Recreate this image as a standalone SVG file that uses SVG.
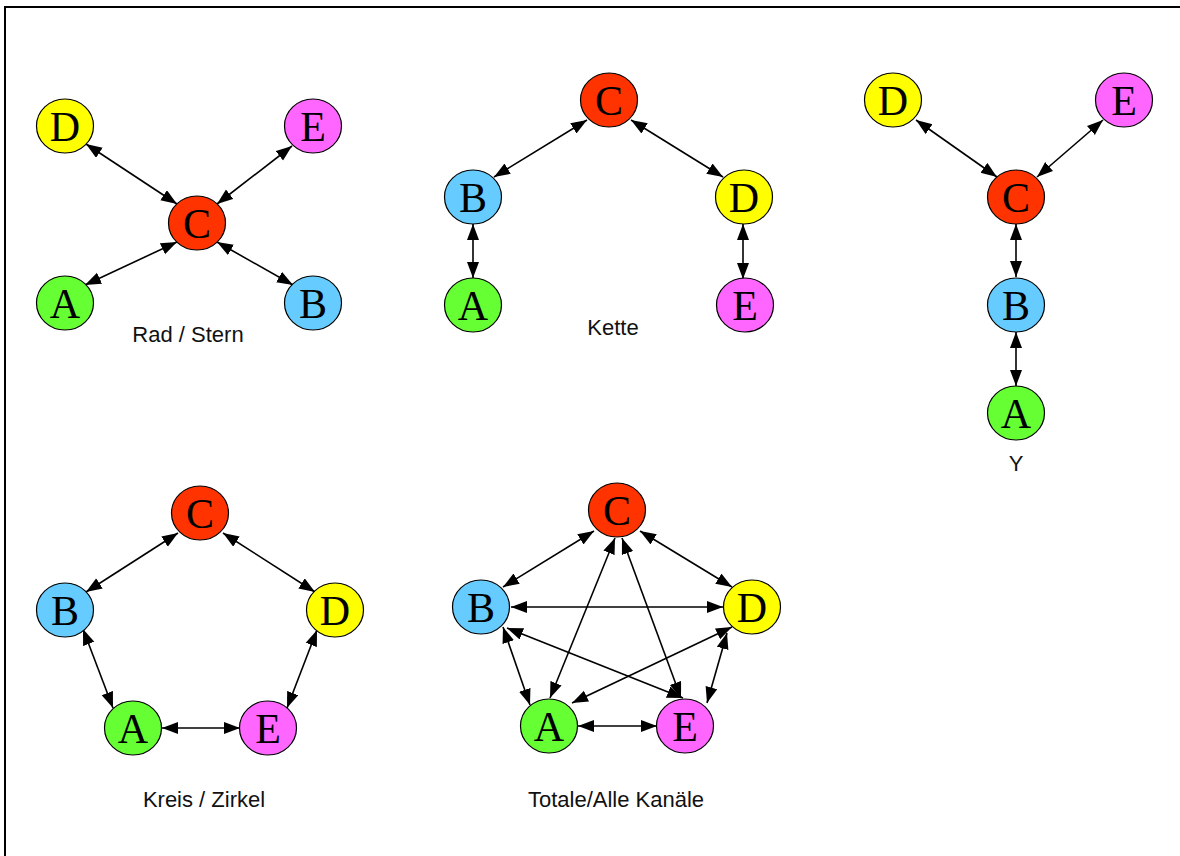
<svg xmlns="http://www.w3.org/2000/svg" width="1180" height="856" viewBox="0 0 1180 856">
  <style>
    .frame { stroke: #000; stroke-width: 2; fill: none; }
    .node ellipse { stroke: #000; stroke-width: 1.2; }
    .node text { font-family: "Liberation Serif", "Times New Roman", serif; font-size: 42px; fill: #000; text-anchor: middle; }
    .cA { fill: #66FF33; }
    .cB { fill: #66CCFF; }
    .cC { fill: #FF3300; }
    .cD { fill: #FFFF00; }
    .cE { fill: #FF66FF; }
    .edges line { stroke: #000; stroke-width: 1.6; marker-start: url(#head); marker-end: url(#head); }
    .caption { font-family: "Liberation Sans", Arial, sans-serif; font-size: 22px; fill: #111; text-anchor: middle; }
  </style>
  <defs>
    <marker id="head" markerUnits="userSpaceOnUse" markerWidth="17" markerHeight="13" viewBox="0 0 17 13" refX="16" refY="6" orient="auto-start-reverse">
      <path d="M0,0 L16,6 L0,12 z" fill="#000"/>
    </marker>
  </defs>

  <rect x="0" y="0" width="1180" height="856" fill="#fff"/>
  <path class="frame" d="M5,856 V7 H1180"/>

  <!-- connectors -->
  <g id="connectors" class="edges">
    <!-- Rad / Stern -->
    <line x1="86" y1="144" x2="177" y2="204"/>
    <line x1="292" y1="146" x2="217" y2="204"/>
    <line x1="85" y1="285" x2="177" y2="242"/>
    <line x1="293" y1="285" x2="217" y2="242"/>
    <!-- Kette -->
    <line x1="587" y1="120" x2="494" y2="177"/>
    <line x1="631" y1="120" x2="723" y2="177"/>
    <line x1="473" y1="224" x2="473" y2="278"/>
    <line x1="743" y1="224" x2="743" y2="279"/>
    <!-- Y -->
    <line x1="916" y1="120" x2="997" y2="177"/>
    <line x1="1103" y1="120" x2="1037" y2="177"/>
    <line x1="1016" y1="224" x2="1016" y2="277"/>
    <line x1="1016" y1="332" x2="1016" y2="386"/>
    <!-- Kreis / Zirkel -->
    <line x1="178" y1="533" x2="86" y2="592"/>
    <line x1="223" y1="533" x2="315" y2="592"/>
    <line x1="83" y1="629" x2="113" y2="708"/>
    <line x1="317" y1="630" x2="287" y2="708"/>
    <line x1="162" y1="728" x2="240" y2="728"/>
    <!-- Totale / Alle Kanäle -->
    <line x1="594" y1="531" x2="503" y2="587"/>
    <line x1="640" y1="531" x2="732" y2="587"/>
    <line x1="511" y1="607" x2="723" y2="607"/>
    <line x1="615" y1="538" x2="550" y2="698"/>
    <line x1="622" y1="538" x2="681" y2="698"/>
    <line x1="503" y1="627" x2="530" y2="705"/>
    <line x1="507" y1="628" x2="683" y2="698"/>
    <line x1="572" y1="703" x2="732" y2="627"/>
    <line x1="727" y1="633" x2="707" y2="703"/>
    <line x1="578" y1="726" x2="657" y2="726"/>
  </g>

  <!-- Rad / Stern -->
  <g id="rad-D" class="node"><ellipse class="cD" cx="65" cy="126" rx="28.5" ry="27"/><text x="65" y="141">D</text></g>
  <g id="rad-E" class="node"><ellipse class="cE" cx="313" cy="126" rx="28.5" ry="27"/><text x="313" y="141">E</text></g>
  <g id="rad-C" class="node"><ellipse class="cC" cx="197" cy="223" rx="28.5" ry="27"/><text x="197" y="238">C</text></g>
  <g id="rad-A" class="node"><ellipse class="cA" cx="65" cy="303" rx="28.5" ry="27"/><text x="65" y="318">A</text></g>
  <g id="rad-B" class="node"><ellipse class="cB" cx="313" cy="303" rx="28.5" ry="27"/><text x="313" y="318">B</text></g>
  <text class="caption" x="188" y="342">Rad / Stern</text>

  <!-- Kette -->
  <g id="kette-C" class="node"><ellipse class="cC" cx="609" cy="100" rx="28.5" ry="27"/><text x="609" y="115">C</text></g>
  <g id="kette-B" class="node"><ellipse class="cB" cx="473" cy="197" rx="28.5" ry="27"/><text x="473" y="212">B</text></g>
  <g id="kette-D" class="node"><ellipse class="cD" cx="744" cy="197" rx="28.5" ry="27"/><text x="744" y="212">D</text></g>
  <g id="kette-A" class="node"><ellipse class="cA" cx="473" cy="305" rx="28.5" ry="27"/><text x="473" y="320">A</text></g>
  <g id="kette-E" class="node"><ellipse class="cE" cx="745" cy="305" rx="28.5" ry="27"/><text x="745" y="320">E</text></g>
  <text class="caption" x="613" y="335">Kette</text>

  <!-- Y -->
  <g id="y-D" class="node"><ellipse class="cD" cx="893" cy="100" rx="28.5" ry="27"/><text x="893" y="115">D</text></g>
  <g id="y-E" class="node"><ellipse class="cE" cx="1124" cy="100" rx="28.5" ry="27"/><text x="1124" y="115">E</text></g>
  <g id="y-C" class="node"><ellipse class="cC" cx="1016" cy="197" rx="28.5" ry="27"/><text x="1016" y="212">C</text></g>
  <g id="y-B" class="node"><ellipse class="cB" cx="1016" cy="305" rx="28.5" ry="27"/><text x="1016" y="320">B</text></g>
  <g id="y-A" class="node"><ellipse class="cA" cx="1016" cy="413" rx="28.5" ry="27"/><text x="1016" y="428">A</text></g>
  <text class="caption" x="1016" y="471">Y</text>

  <!-- Kreis / Zirkel -->
  <g id="kreis-C" class="node"><ellipse class="cC" cx="200" cy="513" rx="28.5" ry="27"/><text x="200" y="528">C</text></g>
  <g id="kreis-B" class="node"><ellipse class="cB" cx="65" cy="610" rx="28.5" ry="27"/><text x="65" y="625">B</text></g>
  <g id="kreis-D" class="node"><ellipse class="cD" cx="335" cy="610" rx="28.5" ry="27"/><text x="335" y="625">D</text></g>
  <g id="kreis-A" class="node"><ellipse class="cA" cx="133" cy="728" rx="28.5" ry="27"/><text x="133" y="743">A</text></g>
  <g id="kreis-E" class="node"><ellipse class="cE" cx="268" cy="728" rx="28.5" ry="27"/><text x="268" y="743">E</text></g>
  <text class="caption" x="204" y="807">Kreis / Zirkel</text>

  <!-- Totale / Alle Kanäle -->
  <g id="total-C" class="node"><ellipse class="cC" cx="617" cy="510" rx="28.5" ry="27"/><text x="617" y="525">C</text></g>
  <g id="total-B" class="node"><ellipse class="cB" cx="481" cy="607" rx="28.5" ry="27"/><text x="481" y="622">B</text></g>
  <g id="total-D" class="node"><ellipse class="cD" cx="752" cy="607" rx="28.5" ry="27"/><text x="752" y="622">D</text></g>
  <g id="total-A" class="node"><ellipse class="cA" cx="549" cy="726" rx="28.5" ry="27"/><text x="549" y="741">A</text></g>
  <g id="total-E" class="node"><ellipse class="cE" cx="685" cy="726" rx="28.5" ry="27"/><text x="685" y="741">E</text></g>
  <text class="caption" x="616" y="807">Totale/Alle Kanäle</text>
</svg>
